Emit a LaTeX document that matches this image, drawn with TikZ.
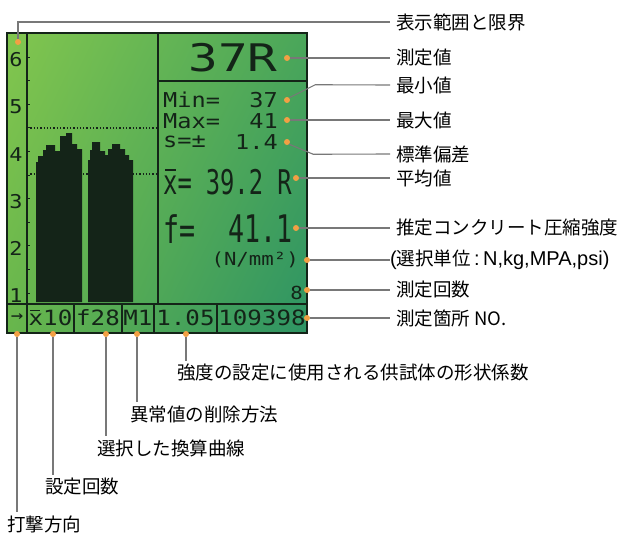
\documentclass[tikz,border=0pt]{standalone}
\usepackage{fontspec}
\setmainfont{Noto Sans CJK JP}
\newfontfamily\latinlbl{Liberation Sans}
\newfontfamily\lcdwide[FakeStretch=1.3]{DejaVu Sans Mono}
\newfontfamily\lcdmid[FakeStretch=1.15]{DejaVu Sans Mono}
\newfontfamily\lcdtall[FakeStretch=0.7]{DejaVu Sans Mono}
\usetikzlibrary{arrows.meta,calc,positioning,shadings}

\definecolor{lcdUL}{RGB}{130,198,78}
\definecolor{lcdUR}{RGB}{74,166,90}
\definecolor{lcdLL}{RGB}{104,182,76}
\definecolor{lcdLR}{RGB}{46,148,100}
\definecolor{lcdink}{RGB}{20,36,24}
\definecolor{dotorange}{RGB}{242,160,68}
\definecolor{leadgray}{RGB}{120,120,120}

\begin{document}
\begin{tikzpicture}[x=1pt,y=-1pt,
  lcdline/.style={lcdink,line width=1.5pt},
  hotdot/.style={circle,fill=dotorange,inner sep=0pt,minimum size=6pt},
  lead/.style={leadgray,line width=1.1pt},
  rlbl/.style={anchor=west,inner xsep=6pt,inner ysep=0pt,font=\fontsize{18.5}{20}\selectfont},
  blbl/.style={anchor=west,inner xsep=0pt,inner ysep=3pt,font=\fontsize{18.5}{20}\selectfont},
  lcdtxt/.style={inner sep=0pt,text=lcdink},
  meanbar/.style={lcdink,line width=2pt}]

  \useasboundingbox (0,0) rectangle (625,533);
  \fill[white] (0,0) rectangle (625,533);

  % LCD background
  \shade[upper left=lcdUL,upper right=lcdUR,lower left=lcdLL,lower right=lcdLR]
    (7,33) rectangle (307,333);

  % dotted limit lines of the display range
  \draw[lcdink,dotted,line width=1.3pt] (27,128) -- (158,128);
  \draw[lcdink,dotted,line width=1.3pt] (27,174) -- (158,174);

  % histogram bars
  \fill[lcdink] (36,302) -- (36,162) -| (38,156) -| (43,150) -| (46,145) -| (55,151)
    -| (60,136) -| (66,133) -| (72,144) -| (77,149) -| (82,302) -- cycle;
  \fill[lcdink] (88,302) -- (88,160) -| (90,150) -| (92,142) -| (100,151) -| (105,155)
    -| (108,149) -| (112,144) -| (120,149) -| (125,155) -| (129,160) -| (133,302) -- cycle;

  % scale axis
  \draw[lcdline] (27,33) -- (27,304);
  \foreach \k in {0,...,10}
    \draw[lcdink,line width=1pt] (27,57+23.6*\k) -- ++(3,0);
  \foreach \n in {1,...,6}
    \node[lcdtxt,font={\fontsize{19}{19}\lcdmid}] (ax\n) at (16,296-47.2*\n+47.2) {\n};

  % panel frames
  \draw[lcdline] (158,33) -- (158,304);
  \draw[lcdline] (158,81) -- (307,81);
  \draw[lcdline] (7,304) -- (307,304);
  \foreach \xx in {27,74,122,154,217}
    \draw[lcdline] (\xx,304) -- (\xx,333);
  \draw[lcdink,line width=2.4pt] (7,33) rectangle (307,333);

  % readings
  \node[lcdtxt,font={\fontsize{38}{38}\lcdwide}] (vMeas) at (233,58) {37R};
  \node[lcdtxt,anchor=west,font={\fontsize{20.5}{20.5}\lcdmid}] (kMin) at (163,100) {Min=};
  \node[lcdtxt,anchor=east,font={\fontsize{20.5}{20.5}\lcdmid}] (vMin) at (278,100) {37};
  \node[lcdtxt,anchor=west,font={\fontsize{20.5}{20.5}\lcdmid}] (kMax) at (163,121) {Max=};
  \node[lcdtxt,anchor=east,font={\fontsize{20.5}{20.5}\lcdmid}] (vMax) at (278,121) {41};
  \node[lcdtxt,anchor=west,font={\fontsize{20.5}{20.5}\lcdmid}] (kDev) at (163,142) {s=±};
  \node[lcdtxt,anchor=east,font={\fontsize{20.5}{20.5}\lcdmid}] (vDev) at (278,142) {1.4};
  \node[lcdtxt,anchor=west,font={\fontsize{34}{34}\lcdtall}] (kMean) at (163,182) {\vphantom{0}x=};
  \draw[meanbar] ([xshift=2pt,yshift=-1pt]kMean.north west) -- ++(11,0);
  \node[lcdtxt,anchor=east,font={\fontsize{34}{34}\lcdtall}] (vMean) at (292,182) {39.2 R};
  \node[lcdtxt,anchor=west,font={\fontsize{38}{38}\lcdtall}] (kStr) at (163,229) {f=};
  \node[lcdtxt,anchor=east,font={\fontsize{38}{38}\lcdtall}] (vStr) at (293,229) {41.1};
  \node[lcdtxt,anchor=east,font={\fontsize{18}{18}\lcdmid}] (vUnit) at (299,260) {(N/mm²)};
  \node[lcdtxt,anchor=east,font={\fontsize{18}{18}\lcdmid}] (vCnt) at (303,293) {8};

  % status line
  \node[lcdtxt,font={\fontsize{18}{18}\lcdmid}] (sDir) at (17,318) {→};
  \node[lcdtxt,font={\fontsize{21}{21}\lcdmid}] (sSet) at (50.5,318) {\vphantom{0}x10};
  \draw[meanbar,line width=1.6pt] ([xshift=2pt,yshift=-0.8pt]sSet.north west) -- ++(10,0);
  \node[lcdtxt,font={\fontsize{21}{21}\lcdmid}] (sCurve) at (98,318) {f28};
  \node[lcdtxt,font={\fontsize{21}{21}\lcdmid}] (sOut) at (138,318) {M1};
  \node[lcdtxt,font={\fontsize{21}{21}\lcdmid}] (sShape) at (185.5,318) {1.05};
  \node[lcdtxt,font={\fontsize{21}{21}\lcdmid}] (sNo) at (262,318) {109398};

  % marker dots
  \node[hotdot] (dRange) at (18,42) {};
  \node[hotdot] (dMeas) at (287,58) {};
  \node[hotdot] (dMin) at (287,100) {};
  \node[hotdot] (dMax) at (287,120) {};
  \node[hotdot] (dDev) at (287,142) {};
  \node[hotdot] (dMean) at (296,178) {};
  \node[hotdot] (dStr) at (296,228) {};
  \node[hotdot] (dUnit) at (307,260) {};
  \node[hotdot] (dCnt) at (307,290) {};
  \node[hotdot] (dNo) at (307,318) {};
  \node[hotdot] (dDir) at (17,334) {};
  \node[hotdot] (dSet) at (53,334) {};
  \node[hotdot] (dCurve) at (106,334) {};
  \node[hotdot] (dOut) at (137,334) {};
  \node[hotdot] (dShape) at (186,334) {};

  % labels on the right
  \node[rlbl] (lRange) at (390,22) {表示範囲と限界};
  \node[rlbl] (lMeas) at (390,58) {測定値};
  \node[rlbl] (lMin) at (390,85) {最小値};
  \node[rlbl] (lMax) at (390,120) {最大値};
  \node[rlbl] (lDev) at (390,154) {標準偏差};
  \node[rlbl] (lMean) at (390,178) {平均値};
  \node[rlbl] (lStr) at (390,228) {推定コンクリート圧縮強度};
  \node[rlbl,inner xsep=0pt] (lUnit) at (390,260)
    {{\latinlbl\fontsize{20}{20}\selectfont(}選択単位{\latinlbl\fontsize{20}{20}\selectfont\,:\,N,kg,MPA,psi)}};
  \node[rlbl] (lCnt) at (390,290) {測定回数};
  \node[rlbl] (lNo) at (390,318) {測定箇所 NO.};

  % labels below
  \node[blbl] (lDir) at (7,524) {打撃方向};
  \node[blbl] (lSet) at (45,487) {設定回数};
  \node[blbl] (lCurve) at (97,448) {選択した換算曲線};
  \node[blbl] (lOut) at (130,414) {異常値の削除方法};
  \node[blbl] (lShape) at (177,373) {強度の設定に使用される供試体の形状係数};

  % leader lines
  \draw[lead] (dRange.north) |- (lRange.west);
  \draw[lead] (dMeas.east) -- (lMeas.west);
  \draw[lead] (dMin.north east) -- ++(26,-13) -- (lMin.west);
  \draw[lead] (dMax.east) -- (lMax.west);
  \draw[lead] (dDev.south east) -- ++(24,10) -- (lDev.west);
  \draw[lead] (dMean.east) -- (lMean.west);
  \draw[lead] (dStr.east) -- (lStr.west);
  \draw[lead] (dUnit.east) -- (lUnit.west);
  \draw[lead] (dCnt.east) -- (lCnt.west);
  \draw[lead] (dNo.east) -- (lNo.west);
  \draw[lead] (dDir.south) -- (dDir.south |- lDir.north);
  \draw[lead] (dSet.south) -- (dSet.south |- lSet.north);
  \draw[lead] (dCurve.south) -- (dCurve.south |- lCurve.north);
  \draw[lead] (dOut.south) -- (dOut.south |- lOut.north);
  \draw[lead] (dShape.south) -- (dShape.south |- lShape.north);

\end{tikzpicture}
\end{document}
